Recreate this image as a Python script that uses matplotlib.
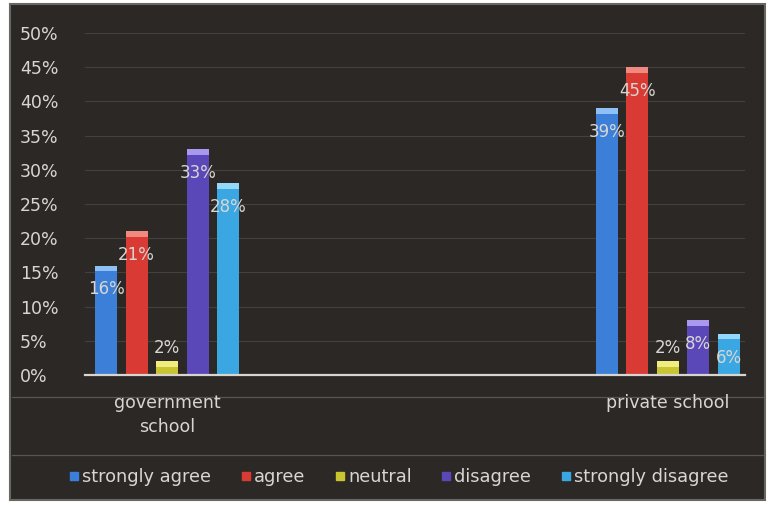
import matplotlib.pyplot as plt
import numpy as np
from matplotlib.lines import Line2D
from matplotlib.patches import Rectangle

schools = ["government\nschool", "private school"]
responses = ["strongly agree", "agree", "neutral", "disagree", "strongly disagree"]
strongly_agree = [16, 39]
agree = [21, 45]
neutral = [2, 2]
disagree = [33, 8]
strongly_disagree = [28, 6]
yticks = list(range(0, 55, 5))

colors = ["#3b7fd9", "#d93a34", "#c9c431", "#5a48b8", "#3aa6e2"]
caps = ["#8fc0f5", "#f08a80", "#f0ec80", "#a998ee", "#93d8f8"]
bg = "#2b2826"
txt = "#d9d6d2"

series = [strongly_agree, agree, neutral, disagree, strongly_disagree]

fig = plt.figure(figsize=(7.68, 5.05), dpi=100, facecolor="white")
# dark chart area behind everything
fig.patches.append(Rectangle((10 / 768, 5 / 505), 755 / 768, 496 / 505,
                             transform=fig.transFigure, facecolor=bg,
                             edgecolor="#6a6662", linewidth=1.5, zorder=-10))
# faint horizontal lines outside plot
for yy in (397, 455):
    fig.lines.append(Line2D([12 / 768, 763 / 768], [1 - yy / 505] * 2,
                            transform=fig.transFigure, color="#5a5550",
                            linewidth=0.9, zorder=-5))

ax = fig.add_axes([85 / 768, 1 - 375 / 505, 660 / 768, 342 / 505])
ax.set_facecolor("none")
ax.set_xlim(-0.164, 1.154)
ax.set_ylim(0, 50)

x = np.arange(len(schools))
step = 0.061
width = 0.044
for i, (vals, name) in enumerate(zip(series, responses)):
    xs = x + (i - 2) * step
    ax.bar(xs, vals, width=width, color=colors[i], label=name, zorder=3)
    ax.bar(xs, [0.8] * len(vals), bottom=np.array(vals) - 0.8, width=width,
           color=caps[i], zorder=4)
    for xx, v in zip(xs, vals):
        yy = v - 3.5 if v >= 5 else v + 1.9
        ax.text(xx, yy, f"{v}%", ha="center", va="center", color=txt,
                fontsize=12, zorder=5)

ax.set_yticks(yticks)
ax.set_yticklabels([f"{t}%" for t in yticks], color=txt, fontsize=12.5)
for lab in ax.get_yticklabels():
    lab.set_horizontalalignment("left")
ax.yaxis.grid(True, color="#44403c", linewidth=0.8, zorder=0)
ax.set_axisbelow(True)
ax.tick_params(axis="y", length=0, pad=47)
ax.set_xticks(x)
ax.set_xticklabels(schools, color=txt, fontsize=12.5, linespacing=1.4)
ax.tick_params(axis="x", length=0, pad=14)
for s in ("left", "right", "top"):
    ax.spines[s].set_visible(False)
ax.spines["bottom"].set_color("#d8d4d0")
ax.spines["bottom"].set_linewidth(1.6)
ax.spines["bottom"].set_zorder(6)

handles = [Line2D([], [], marker="s", linestyle="none", markersize=6,
                  markerfacecolor=c, markeredgecolor=c) for c in colors]
leg = fig.legend(handles, responses, loc="center", bbox_to_anchor=(0.518, 1 - 477 / 505),
                 ncol=5, frameon=False, fontsize=12.8, handletextpad=0.05,
                 columnspacing=1.55, handlelength=0.8)
for t in leg.get_texts():
    t.set_color(txt)

fig.savefig("out.png", dpi=100, facecolor="white")
